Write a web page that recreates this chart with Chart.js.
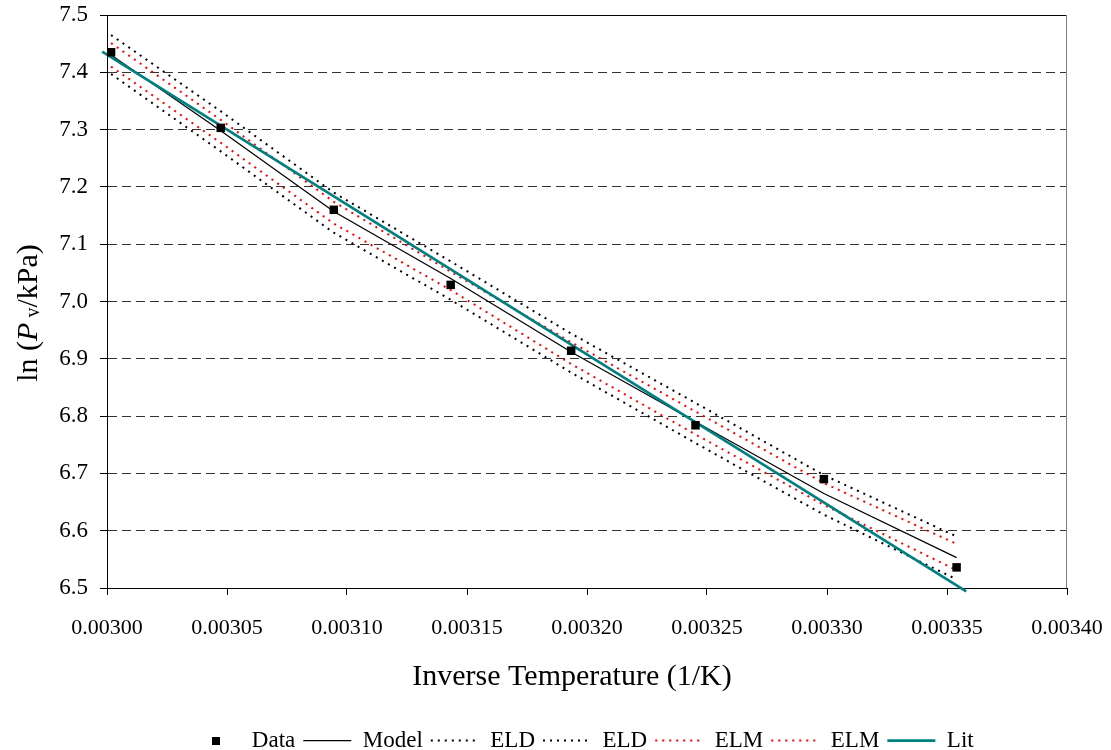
<!DOCTYPE html>
<html>
<head>
<meta charset="UTF-8">
<title>ln Pv vs 1/T</title>
<script src="https://cdn.jsdelivr.net/npm/chart.js@4.4.1/dist/chart.umd.min.js"></script>
<style>
	body { margin: 0; background: #fff; }
</style>
</head>
<body>
	<canvas id="myChart" width="1111" height="750"></canvas>

<script>
	// measured points, x = 1/T (1/K), y = ln(Pv/kPa)
	var invT = [0.0030017, 0.0030474, 0.0030945, 0.0031432, 0.0031934, 0.0032452, 0.0032987, 0.0033540];
	var lnPData = [7.435, 7.303, 7.160, 7.029, 6.914, 6.784, 6.690, 6.536];
	var lnPModel = [7.430, 7.298, 7.157, 7.040, 6.912, 6.790, 6.665, 6.553];
	// error limits
	var eldUpper = [7.465, 7.332, 7.190, 7.070, 6.944, 6.823, 6.697, 6.590];
	var eldLower = [7.397, 7.262, 7.120, 7.003, 6.876, 6.753, 6.628, 6.515];
	var elmUpper = [7.451, 7.317, 7.174, 7.052, 6.929, 6.808, 6.683, 6.577];
	var elmLower = [7.410, 7.277, 7.136, 7.020, 6.891, 6.768, 6.645, 6.531];
	// literature line (two ends)
	var litInvT = [0.002998, 0.003358];
	var litLnP = [7.436, 6.494];

	var xTickValues = [0.00300, 0.00305, 0.00310, 0.00315, 0.00320, 0.00325, 0.00330, 0.00335, 0.00340];
	var yTickValues = [6.5, 6.6, 6.7, 6.8, 6.9, 7.0, 7.1, 7.2, 7.3, 7.4, 7.5];
	var xTitle = 'Inverse Temperature (1/K)';
</script>

<script>
	var serif = '"Liberation Serif", "Times New Roman", serif';
	Chart.defaults.font.family = serif;
	Chart.defaults.color = '#000';

	function pts(xs, ys) {
		return xs.map(function(x, i) { return {x: x, y: ys[i]}; });
	}

	// little black square for the "Data" legend entry
	var sq = document.createElement('canvas');
	sq.width = 8; sq.height = 8;
	sq.getContext('2d').fillRect(0, 0, 8, 8);

	var titles = {
		id: 'titles',
		afterLayout: function(chart) {
			// legend sits a bit lower and right of centre in the original
			var lg = chart.legend;
			lg.left = 55;
			lg.top += 12;
			lg.bottom += 12;
		},
		beforeDatasetsDraw: function(chart) {
			var ctx = chart.ctx, a = chart.chartArea;
			ctx.save();
			ctx.lineWidth = 1;
			ctx.strokeStyle = '#000';
			ctx.beginPath(); ctx.moveTo(a.left, a.top + 0.5); ctx.lineTo(a.right, a.top + 0.5); ctx.stroke();
			ctx.strokeStyle = '#808080';
			ctx.beginPath(); ctx.moveTo(a.right - 0.5, a.top); ctx.lineTo(a.right - 0.5, a.bottom); ctx.stroke();
			ctx.restore();
		},
		afterDraw: function(chart) {
			var ctx = chart.ctx;
			ctx.save();
			ctx.fillStyle = '#000';
			ctx.font = '30px ' + serif;
			ctx.textAlign = 'center';
			ctx.textBaseline = 'middle';
			ctx.fillText(xTitle, 572, 677);

			// y title: ln (P v/kPa) with italic P and small v
			ctx.translate(37, 313);
			ctx.rotate(-Math.PI / 2);
			ctx.textAlign = 'left';
			ctx.textBaseline = 'alphabetic';
			var parts = [
				['ln (', '30px ' + serif, 0],
				['P', 'italic 30px ' + serif, 0],
				[' v', '20px ' + serif, 2],
				['/kPa)', '30px ' + serif, 0]
			];
			var total = 0;
			parts.forEach(function(p) { ctx.font = p[1]; total += ctx.measureText(p[0]).width; });
			var x = -total / 2;
			parts.forEach(function(p) {
				ctx.font = p[1];
				ctx.fillText(p[0], x, p[2]);
				x += ctx.measureText(p[0]).width;
			});
			ctx.restore();
		}
	};

	new Chart('myChart', {
		type: 'scatter',
		data: {
			datasets: [
				{label: 'Data', data: pts(invT, lnPData), showLine: false, pointStyle: 'rect', pointRadius: 6, pointHoverRadius: 6, backgroundColor: '#000', borderColor: '#000', borderWidth: 0, order: 0},
				{label: 'Model', data: pts(invT, lnPModel), showLine: true, pointRadius: 0, borderColor: '#000', borderWidth: 1.25, order: 2},
				{label: 'ELD', data: pts(invT, eldUpper), showLine: true, pointRadius: 0, borderColor: '#000', borderWidth: 2, borderDash: [2, 5], order: 3},
				{label: 'ELD', data: pts(invT, eldLower), showLine: true, pointRadius: 0, borderColor: '#000', borderWidth: 2, borderDash: [2, 5], order: 4},
				{label: 'ELM', data: pts(invT, elmUpper), showLine: true, pointRadius: 0, borderColor: '#ff0000', borderWidth: 2, borderDash: [2, 5], order: 5},
				{label: 'ELM', data: pts(invT, elmLower), showLine: true, pointRadius: 0, borderColor: '#ff0000', borderWidth: 2, borderDash: [2, 5], order: 6},
				{label: 'Lit', data: pts(litInvT, litLnP), showLine: true, pointRadius: 0, borderColor: '#008080', borderWidth: 2.75, clip: false, order: 1}
			]
		},
		options: {
			responsive: false,
			animation: false,
			layout: {padding: {left: 0, right: 0, top: 15, bottom: 0}},
			plugins: {
				tooltip: {enabled: false},
				legend: {
					position: 'bottom',
					labels: {
						usePointStyle: true,
						pointStyleWidth: 48,
						padding: 8,
						font: {size: 23},
						generateLabels: function(chart) {
							return chart.data.datasets.map(function(ds, i) {
								var isLine = ds.showLine !== false;
								return {
									text: ds.label,
									datasetIndex: i,
									pointStyle: isLine ? 'line' : sq,
									strokeStyle: ds.borderColor,
									fillStyle: ds.backgroundColor || ds.borderColor,
									lineWidth: isLine ? ds.borderWidth : 0,
									lineDash: ds.borderDash || [],
									fontColor: '#000'
								};
							});
						}
					}
				}
			},
			scales: {
				x: {
					type: 'linear',
					min: 0.003, max: 0.0034,
					afterBuildTicks: function(scale) { scale.ticks = xTickValues.map(function(v) { return {value: v}; }); },
					afterFit: function(scale) { scale.height = 121; scale.paddingRight = 44; },
					ticks: {
						autoSkip: false, maxRotation: 0, padding: 20,
						font: {size: 22},
						callback: function(v) { return v.toFixed(5); }
					},
					grid: {drawOnChartArea: false, drawTicks: true, tickLength: 7, tickColor: '#000'},
					border: {color: '#000', width: 1}
				},
				y: {
					min: 6.5, max: 7.5,
					afterBuildTicks: function(scale) { scale.ticks = yTickValues.map(function(v) { return {value: v}; }); },
					afterFit: function(scale) { scale.width = 107; scale.paddingTop = 0; scale.paddingBottom = 0; },
					ticks: {
						padding: 12,
						font: {size: 23},
						callback: function(v) { return v.toFixed(1); }
					},
					grid: {color: '#333', lineWidth: 1, tickLength: 7, tickColor: '#000'},
					border: {color: '#000', width: 1, dash: [9, 5]}
				}
			}
		},
		plugins: [titles]
	});
</script>
</body>
</html>
